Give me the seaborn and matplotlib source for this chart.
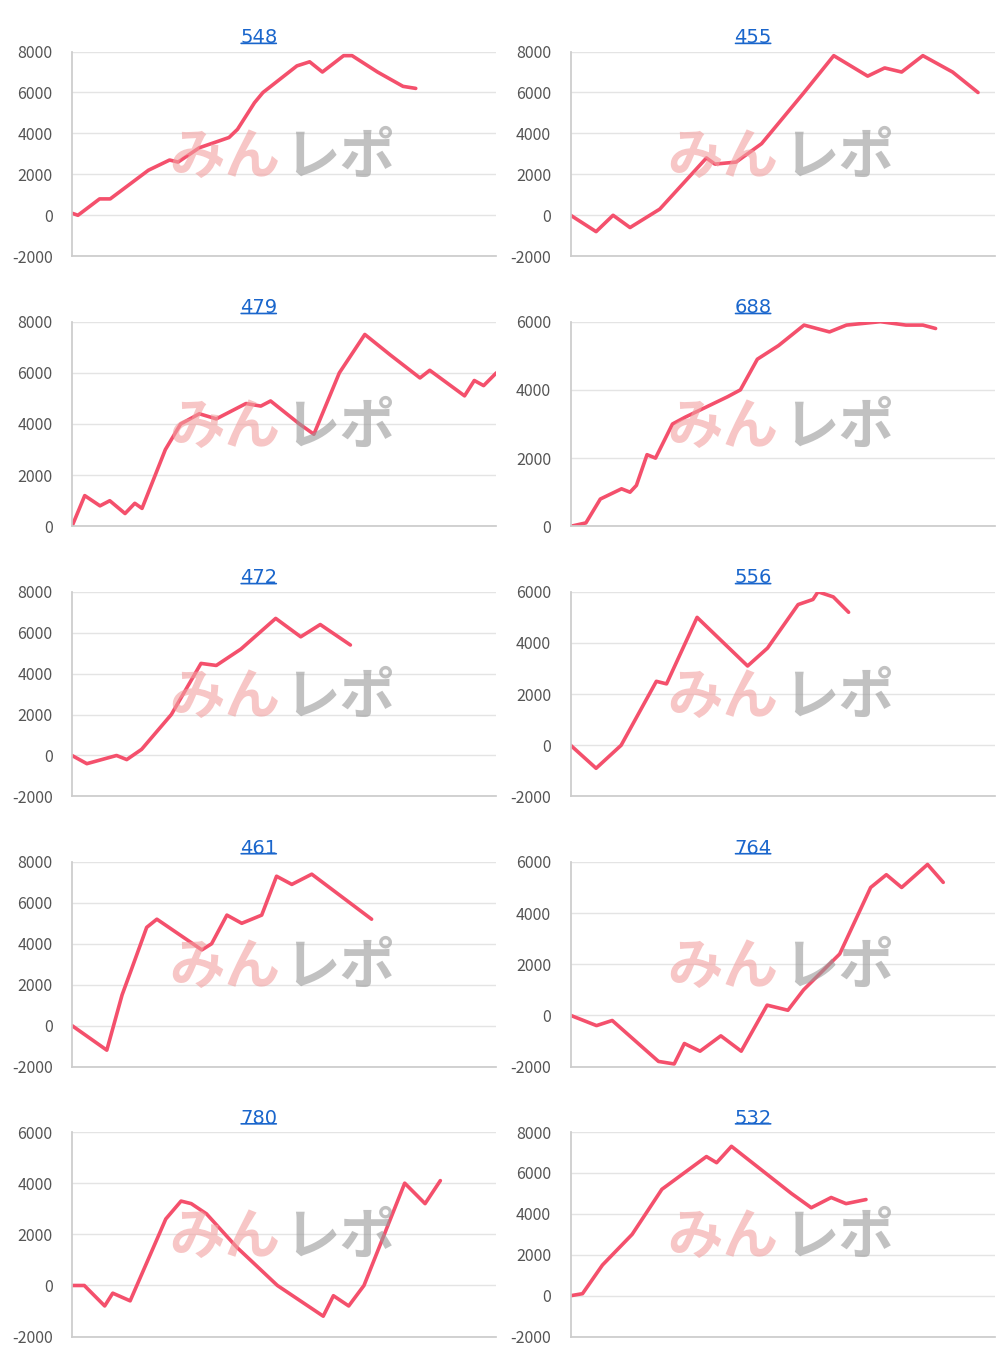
import matplotlib
matplotlib.use("Agg")
import matplotlib.pyplot as plt
import seaborn as sns
import pandas as pd

titles = ["548", "455", "479", "688", "472", "556", "461", "764", "780", "532"]

x548 = [0,1.4,6.5,9,18,23,25,30,37,39,43,45,53,56,59,64,66,72,78,81]
y548 = [100,0,800,800,2200,2700,2600,3300,3800,4200,5500,6000,7300,7500,7000,7800,7800,7000,6300,6200]
x455 = [0,6,10,14,21,32,34,39,45,55,62,70,74,78,83,90,96]
y455 = [0,-800,0,-600,300,2800,2500,2600,3500,6000,7800,6800,7200,7000,7800,7000,6000]
x479 = [0,3,6.6,8.9,12.5,14.8,16.5,22,25.6,30,34,41,44.5,46.8,53.6,57,63,69,75,82,84.3,92.5,94.8,97,100]
y479 = [0,1200,800,1000,500,900,700,3000,4000,4400,4200,4800,4700,4900,4000,3600,6000,7500,6700,5800,6100,5100,5700,5500,6000]
x688 = [0,3.6,7,12,14,15.5,18,20,24,27,32,37,40,44,49,52,55,61,65,73,79,83,86]
y688 = [0,100,800,1100,1000,1200,2100,2000,3000,3200,3500,3800,4000,4900,5300,5600,5900,5700,5900,6000,5900,5900,5800]
x472 = [0,3.5,7,10.5,12.9,16.4,23.4,30.4,34,39.8,48,53.9,58.5,65.6]
y472 = [0,-400,-200,0,-200,300,2000,4500,4400,5200,6700,5800,6400,5400]
x556 = [0,6,11.9,20.2,22.6,29.8,41.7,46.4,53.6,57.1,58.3,61.9,65.5]
y556 = [0,-900,0,2500,2400,5000,3100,3800,5500,5700,6000,5800,5200]
x461 = [0,8.2,11.8,14.1,17.6,20,30.6,32.9,36.5,40,44.7,48.2,51.8,56.5,70.6]
y461 = [0,-1200,1500,2800,4800,5200,3700,4000,5400,5000,5400,7300,6900,7400,5200]
x764 = [0,6.1,9.8,20.7,24.4,26.8,30.5,35.4,40.2,46.3,51.2,54.9,63.4,70.7,74.4,78,84.1,87.8]
y764 = [0,-400,-200,-1800,-1900,-1100,-1400,-800,-1400,400,200,1000,2400,5000,5500,5000,5900,5200]
x780 = [0,2.9,7.7,9.6,13.7,22.1,25.7,28.1,31.7,38.8,48.4,59.2,61.6,65.2,68.8,78.4,83.2,86.8]
y780 = [0,0,-800,-300,-600,2600,3300,3200,2800,1500,0,-1200,-400,-800,0,4000,3200,4100]
x532 = [0,2.8,7.5,14.5,21.5,32,34.4,37.9,52,56.7,61.4,64.9,69.6]
y532 = [0,100,1500,3000,5200,6800,6500,7300,5000,4300,4800,4500,4700]

series = [(x548,y548),(x455,y455),(x479,y479),(x688,y688),(x472,y472),
          (x556,y556),(x461,y461),(x764,y764),(x780,y780),(x532,y532)]
ylims = [(-2000,8000),(-2000,8000),(0,8000),(0,6000),(-2000,8000),
         (-2000,6000),(-2000,8000),(-2000,6000),(-2000,6000),(-2000,8000)]

sns.set_theme(style="white")
plt.rcParams['font.family'] = ['Noto Sans CJK JP', 'DejaVu Sans']
plt.rcParams['axes.unicode_minus'] = False
fig, axes = plt.subplots(5, 2, figsize=(10, 13.57), dpi=100)
fig.subplots_adjust(left=0.072, right=0.995, top=0.962, bottom=0.015, hspace=0.32, wspace=0.175)

for i, (ax, t, (xs, ys), yl) in enumerate(zip(axes.flat, titles, series, ylims)):
    df = pd.DataFrame({"x": xs, "y": ys})
    sns.lineplot(data=df, x="x", y="y", ax=ax, color="#f4506c", lw=2.6)
    ax.set_xlim(0, 100)
    ax.set_ylim(yl)
    ax.set_yticks(range(yl[0], yl[1] + 1, 2000))
    ax.set_xticks([])
    ax.set_xlabel(""); ax.set_ylabel("")
    ax.grid(axis="y", color="#e4e4e4", lw=1)
    for s in ["top", "right"]:
        ax.spines[s].set_visible(False)
    ax.spines["left"].set_color("#cccccc")
    ax.spines["bottom"].set_color("#cccccc")
    ax.tick_params(axis="y", labelsize=11.5, colors="#555555", length=0, pad=14)
    tx = 0.44 if i % 2 == 0 else 0.43
    ax.set_title(t, color="#1a66cc", fontsize=14, fontfamily="DejaVu Sans", x=tx)
    ax.annotate("", xy=(tx - 0.048, 1.04), xytext=(tx + 0.048, 1.04), xycoords="axes fraction",
                arrowprops=dict(arrowstyle="-", color="#1a66cc", lw=1.2))
    ax.text(0.49, 0.48, "みん", transform=ax.transAxes, fontsize=40, fontweight="bold",
            color="#f2a0a0", alpha=0.6, ha="right", va="center", style="italic")
    ax.text(0.5, 0.48, "レポ", transform=ax.transAxes, fontsize=40, fontweight="bold",
            color="#999999", alpha=0.6, ha="left", va="center", style="italic")

fig.savefig("out.png", dpi=100)
